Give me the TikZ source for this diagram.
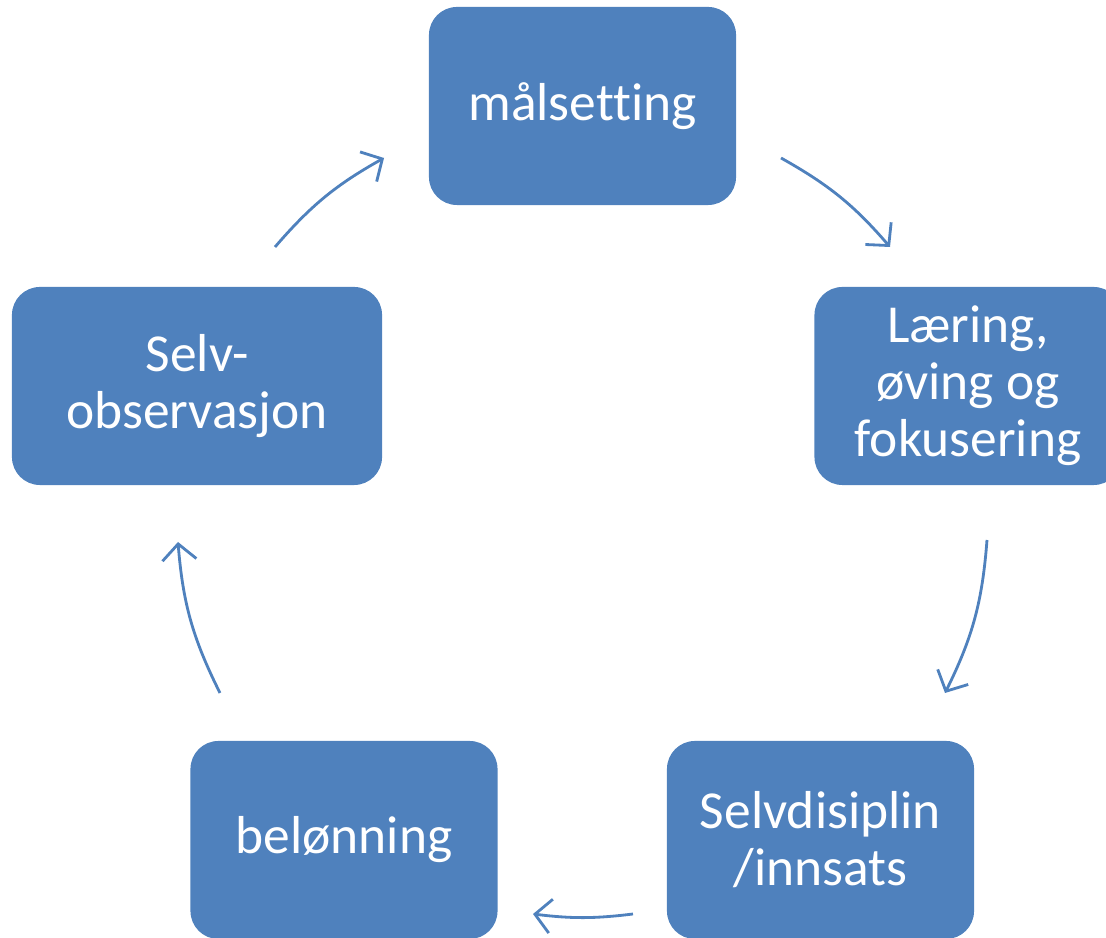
\documentclass[tikz,border=0pt]{standalone}
\usepackage{fontspec}
\setmainfont[RawFeature={-liga;-clig;-calt}]{Carlito}
\usepackage{xcolor}
\usetikzlibrary{arrows.meta}
\definecolor{boksblaa}{HTML}{4F81BD}

\begin{document}
\begin{tikzpicture}[x=0.025cm,y=0.025cm,
		boks/.style={fill=boksblaa, draw=none, rounded corners=0.7cm,
			minimum width=7.675cm, minimum height=4.95cm, text=white,
			align=center, inner sep=2pt, font=\fontsize{38}{40.5}\selectfont},
		pil/.style={draw=boksblaa, line width=2pt,
			-{Straight Barb[length=4mm,width=8.5mm]}}]
				\useasboundingbox (0,0) rectangle (1106,938);
				
				% boxes
				\node[boks] (maal) at (582.5,832) {målsetting};
				\node[boks] (laering) at (968,552) {Læring,\\øving og\\fokusering};
				\node[boks] (selvdis) at (820.5,98) {Selvdisiplin\\/innsats};
				\node[boks] (beloen) at (344,98) {belønning};
				\node[boks, minimum width=9.25cm] (selvobs) at (197,552) {Selv-\\observasjon};
				
				% ends of the arrows
				\foreach \x/\y in
				{a1/{781,780}, b1/{890,691}, a2/{987,398}, b2/{945,245},
					a3/{633,24}, b3/{533,24}, a4/{220,245}, b4/{178,396},
					a5/{275,691}, b5/{384,780}}{
					\coordinate(\x) at (\y);
				}
				
				\foreach \x/\y/\b in
				{a1/b1/10, a2/b2/11, a3/b3/7, a4/b4/11, a5/b5/10}{
					\draw[pil] (\x) to[bend left=\b] (\y);
				}
			\end{tikzpicture}
\end{document}
